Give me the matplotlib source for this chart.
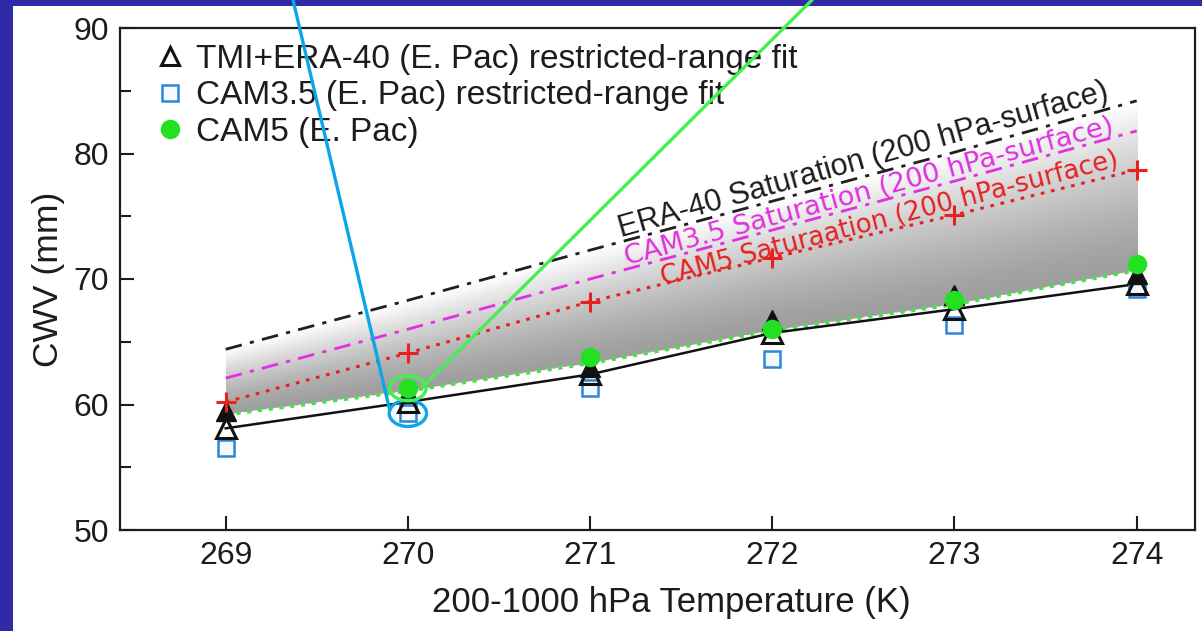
import numpy as np
import matplotlib
matplotlib.use("Agg")
import matplotlib.pyplot as plt
from matplotlib.patches import Ellipse, Rectangle, ConnectionPatch
from matplotlib.lines import Line2D

# ---- data -------------------------------------------------------------
temps = [269, 270, 271, 272, 273, 274]

tmi_fit = [58.1, 60.2, 62.4, 65.7, 67.6, 69.6]      # TMI+ERA-40 restricted-range fit
tmi_obs = [59.5, 60.9, 63.0, 66.7, 68.7, 70.4]      # TMI+ERA-40 binned values
cam35 = [56.5, 59.3, 61.3, 63.6, 66.3, 69.2]        # CAM3.5 restricted-range fit
cam5 = [np.nan, 61.3, 63.8, 66.0, 68.3, 71.2]       # CAM5 binned values
cam5_fit = [59.2, 61.1, 63.3, 65.9, 68.0, 70.7]     # CAM5 fit line
era_sat = [64.4, 68.3, 72.3, 76.2, 80.1, 84.2]      # ERA-40 saturation
cam35_sat = [62.1, 66.0, 70.0, 73.9, 77.8, 81.8]    # CAM3.5 saturation
cam5_sat = [60.2, 64.1, 68.2, 71.7, 75.1, 78.7]     # CAM5 saturation

legend_labels = ["TMI+ERA-40 (E. Pac) restricted-range fit",
                 "CAM3.5 (E. Pac) restricted-range fit",
                 "CAM5 (E. Pac)"]
sat_labels = ["ERA-40 Saturation (200 hPa-surface)",
              "CAM3.5 Saturation (200 hPa-surface)",
              "CAM5 Saturaation (200 hPa-surface)"]

# ---- figure -----------------------------------------------------------
W, H = 1202, 631
plt.rcParams["font.family"] = ["Liberation Sans", "DejaVu Sans"]
ink = "#1c1c1c"

fig = plt.figure(figsize=(W / 100, H / 100), dpi=100, facecolor="#2e2aa8")
fig.add_artist(Rectangle((13 / W, 0), 1 - 13 / W, 1 - 6 / H,
                         transform=fig.transFigure, facecolor="white",
                         edgecolor="none", zorder=-5))

ax = fig.add_axes([120 / W, 1 - 530 / H, (1195 - 120) / W, (530 - 28) / H])
ax.set_facecolor("white")

# shaded band between CAM5 fit and ERA-40 saturation, fading upward
gx = np.linspace(temps[0], temps[-1], 500)
gy = np.linspace(50, 90, 600)
GX, GY = np.meshgrid(gx, gy)
lo = np.interp(GX, temps, cam5_fit)
hi = np.interp(GX, temps, era_sat)
frac = (GY - lo) / (hi - lo)
inside = (frac >= 0) & (frac <= 1)
shade = 0.62 + 0.38 * np.clip(frac, 0, 1) ** 1.4
rgba = np.zeros(GX.shape + (4,))
rgba[..., 0] = shade
rgba[..., 1] = shade
rgba[..., 2] = shade
rgba[..., 3] = inside.astype(float)
ax.imshow(rgba, extent=[temps[0], temps[-1], 50, 90], origin="lower",
          aspect="auto", interpolation="bilinear", zorder=1)

# saturation curves
ax.plot(temps, era_sat, color="#202020", lw=2.0, ls=(0, (6, 3, 1.5, 3)), zorder=3)
ax.plot(temps, cam35_sat, color="#e030e0", lw=2.0, ls=(0, (6, 3, 1.5, 3)), zorder=3)
ax.plot(temps, cam5_sat, color="#e82020", lw=2.2, ls=(0, (1.2, 2.2)), zorder=3)

# fits
ax.plot(temps, cam5_fit, color="#55d855", lw=3.0, ls=(0, (1, 1.6)), zorder=3)
ax.plot(temps, tmi_fit, color="#111111", lw=1.8, zorder=3)

# markers
ax.plot(temps, cam35, ls="none", marker="s", ms=12, mfc="#f4f8ff",
        mec="#2f86d6", mew=1.8, zorder=4)
ax.plot(temps, tmi_fit, ls="none", marker="^", ms=14, mfc="none",
        mec="#111111", mew=2.2, zorder=5)
ax.plot(temps, tmi_obs, ls="none", marker="^", ms=14, mfc="#111111",
        mec="#111111", mew=1.0, zorder=6)
ax.plot(temps, cam5, ls="none", marker="o", ms=13, mfc="#22e022",
        mec="#22e022", zorder=7)
ax.plot(temps, cam5_sat, ls="none", marker="+", ms=15, mec="#e82020",
        mew=2.2, zorder=8)

# curve labels
ax.text(271.17, 73.3, sat_labels[0], color="#1c1c1c", fontsize=22,
        family=["Liberation Sans"], rotation=15.8, rotation_mode="anchor",
        ha="left", va="baseline", zorder=9)
ax.text(271.20, 71.1, sat_labels[1], color="#e030e0", fontsize=19.6,
        family=["DejaVu Sans"], rotation=15.2, rotation_mode="anchor",
        ha="left", va="baseline", zorder=9)
ax.text(271.40, 69.5, sat_labels[2], color="#e82020", fontsize=18.6,
        family=["DejaVu Sans"], rotation=14.6, rotation_mode="anchor",
        ha="left", va="baseline", zorder=9)

# axes styling
ax.set_xlim(268.42, 274.32)
ax.set_ylim(50, 90)
ax.set_xticks(temps)
ax.set_yticks([50, 60, 70, 80, 90])
ax.set_yticks([55, 65, 75, 85], minor=True)
ax.tick_params(which="major", direction="in", length=10, width=1.5,
               labelsize=23, pad=8, colors=ink, top=False, right=False)
ax.tick_params(which="minor", direction="in", length=8, width=1.5,
               colors=ink, top=False, right=False)
ax.tick_params(axis="x", which="minor", bottom=False)
for s in ax.spines.values():
    s.set_linewidth(1.6)
    s.set_color(ink)
ax.set_xlabel("200-1000 hPa Temperature (K)", fontsize=25, color=ink, labelpad=11)
ax.xaxis.label.set_x(0.5128)
ax.set_ylabel("CWV (mm)", fontsize=25.5, color=ink, labelpad=6)

# legend
handles = [
    Line2D([], [], ls="none", marker="^", ms=13, mfc="none", mec="#111111", mew=2.2),
    Line2D([], [], ls="none", marker="s", ms=11, mfc="#f4f8ff", mec="#2f86d6", mew=1.8),
    Line2D([], [], ls="none", marker="o", ms=13, mfc="#22e022", mec="#22e022"),
]
ax.legend(handles, legend_labels, loc="upper left", bbox_to_anchor=(0.033, 0.968),
          frameon=False, fontsize=24, handlelength=0.85, handletextpad=0.36,
          labelspacing=0.16, borderpad=0, borderaxespad=0, labelcolor=ink)

# call-out rings and pointers on the 270 K points
blue = "#0ba6e8"
green = "#45ee55"
ax.add_patch(Ellipse((270, cam35[1]), 0.205, 2.1, fill=False, ec=blue,
                     lw=2.4, zorder=10, clip_on=False))
ax.add_patch(Ellipse((270, cam5[1]), 0.2, 2.0, fill=False, ec=green,
                     lw=2.4, zorder=10, clip_on=False))
fig.add_artist(ConnectionPatch(xyA=(293 / W, 1.0), coordsA=fig.transFigure,
                               xyB=(270 - 0.10, cam35[1] + 0.28), coordsB=ax.transData,
                               color=blue, lw=2.4, zorder=10))
fig.add_artist(ConnectionPatch(xyA=(812 / W, 1.0), coordsA=fig.transFigure,
                               xyB=(270 + 0.08, cam5[1] + 0.1), coordsB=ax.transData,
                               color=green, lw=2.4, zorder=10))

fig.savefig("out.png", dpi=100, facecolor=fig.get_facecolor())
